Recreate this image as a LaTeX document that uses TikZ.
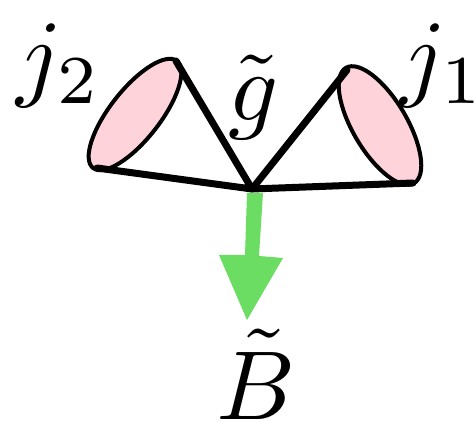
\documentclass[tikz,border=0pt]{standalone}
\definecolor{jetpink}{RGB}{255,211,218}
\definecolor{arrgreen}{RGB}{106,221,98}
\newcommand{\bigmath}[1]{\scalebox{9.8}{$#1$}}
\begin{document}
\begin{tikzpicture}[x=1pt,y=-1pt,
  jetline/.style={line width=7pt,line cap=round,line join=round},
  jetcap/.style={draw=black,fill=jetpink,line width=4pt},
  lab/.style={inner sep=0pt}]
\useasboundingbox (0,0) rectangle (474,422);
\coordinate (v) at (252,189);
\coordinate (l1) at (176,61);
\coordinate (l2) at (97,168);
\coordinate (r1) at (347,70);
\coordinate (r2) at (413,183);
\draw[jetcap] (135,114.5) ellipse[x radius=68,y radius=25,rotate=51.9];
\draw[jetcap] (380,125.5) ellipse[x radius=67,y radius=27,rotate=-59.4];
\draw[jetline] (l1) -- (v) -- (l2);
\draw[jetline] (r1) -- (v) -- (r2);
\fill[arrgreen] (247,193) -- (263,193) -- (259,256) -- (283,258) -- (247,320) -- (219,255) -- (245,255) -- cycle;
\node[lab] (j2) at (59,66) {\bigmath{j_2}};
\node[lab] (g) at (254,97) {\bigmath{\tilde g}};
\node[lab] (j1) at (443,66) {\bigmath{j_1}};
\node[lab] (B) at (256,374) {\bigmath{\tilde B}};
\end{tikzpicture}
\end{document}
